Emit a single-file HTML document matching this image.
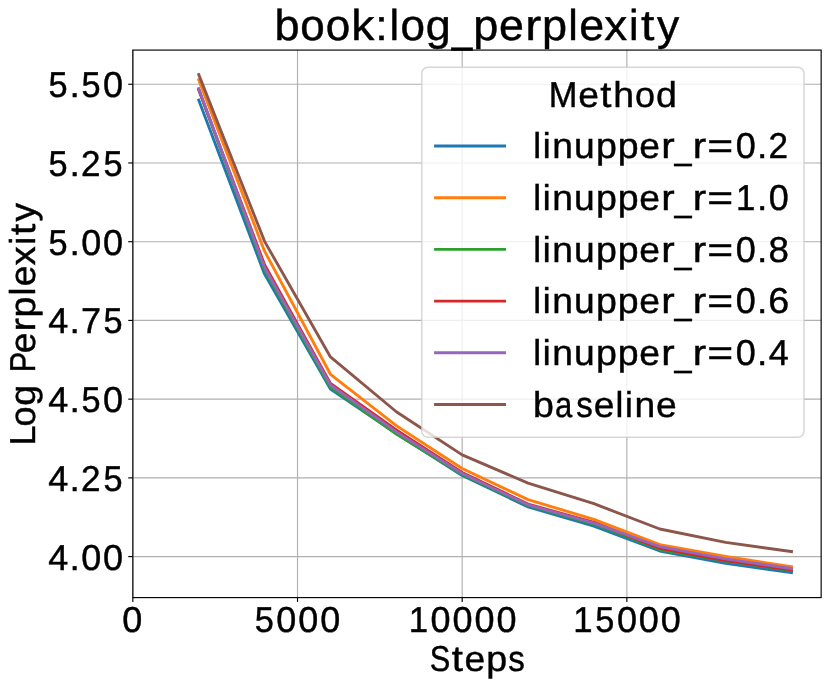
<!DOCTYPE html>
<html lang="en"><head><meta charset="utf-8"><title>book:log_perplexity</title>
<style>
html,body{margin:0;padding:0;background:#fff;}
body{width:830px;height:687px;overflow:hidden;font-family:"Liberation Sans",sans-serif;}
svg{display:block;position:absolute;left:0;top:0;will-change:transform;}
text{font-family:"Liberation Sans",sans-serif;fill:#000;stroke:#000;stroke-width:0.43px;text-rendering:geometricPrecision;}
.grid line{stroke:#b0b0b0;stroke-width:1.15;}
.tick line{stroke:#000;stroke-width:1.15;}
.series polyline{fill:none;stroke-width:2.87;stroke-linecap:square;stroke-linejoin:round;}
.handles line{stroke-width:2.87;stroke-linecap:square;}
</style></head><body>
<svg width="830" height="687" viewBox="0 0 830 687">
<rect x="0" y="0" width="830" height="687" fill="#ffffff"/>
<g class="grid">
<line x1="132.85" y1="50.08" x2="132.85" y2="597.60"/>
<line x1="297.52" y1="50.08" x2="297.52" y2="597.60"/>
<line x1="462.18" y1="50.08" x2="462.18" y2="597.60"/>
<line x1="626.85" y1="50.08" x2="626.85" y2="597.60"/>
<line x1="132.85" y1="556.60" x2="821.15" y2="556.60"/>
<line x1="132.85" y1="477.88" x2="821.15" y2="477.88"/>
<line x1="132.85" y1="399.15" x2="821.15" y2="399.15"/>
<line x1="132.85" y1="320.43" x2="821.15" y2="320.43"/>
<line x1="132.85" y1="241.70" x2="821.15" y2="241.70"/>
<line x1="132.85" y1="162.97" x2="821.15" y2="162.97"/>
<line x1="132.85" y1="84.25" x2="821.15" y2="84.25"/>
</g>
<g class="series">
<polyline stroke="#1f77b4" points="198.72,99.99 264.58,274.13 330.45,389.07 396.31,433.47 462.18,475.51 528.05,506.85 593.91,526.05 659.78,550.99 725.64,563.31 791.51,572.66"/>
<polyline stroke="#ff7f0e" points="198.72,79.84 264.58,251.15 330.45,374.27 396.31,425.60 462.18,468.43 528.05,499.60 593.91,519.44 659.78,544.70 725.64,556.41 791.51,566.68"/>
<polyline stroke="#2ca02c" points="198.72,89.29 264.58,269.73 330.45,387.18 396.31,434.10 462.18,474.57 528.05,505.43 593.91,524.01 659.78,549.51 725.64,561.01 791.51,570.61"/>
<polyline stroke="#d62728" points="198.72,89.92 264.58,264.69 330.45,383.41 396.31,430.01 462.18,472.52 528.05,504.07 593.91,522.43 659.78,548.29 725.64,560.63 791.51,569.83"/>
<polyline stroke="#9467bd" points="198.72,88.66 264.58,267.52 330.45,384.98 396.31,431.90 462.18,473.47 528.05,504.80 593.91,523.16 659.78,546.59 725.64,558.90 791.51,568.57"/>
<polyline stroke="#8c564b" points="198.72,74.49 264.58,241.39 330.45,356.95 396.31,411.75 462.18,454.89 528.05,483.07 593.91,503.70 659.78,528.98 725.64,542.43 791.51,551.59"/>
</g>
<g class="tick">
<line x1="132.85" y1="597.60" x2="132.85" y2="601.90"/>
<line x1="297.52" y1="597.60" x2="297.52" y2="601.90"/>
<line x1="462.18" y1="597.60" x2="462.18" y2="601.90"/>
<line x1="626.85" y1="597.60" x2="626.85" y2="601.90"/>
<line x1="128.25" y1="556.60" x2="132.85" y2="556.60"/>
<line x1="128.25" y1="477.88" x2="132.85" y2="477.88"/>
<line x1="128.25" y1="399.15" x2="132.85" y2="399.15"/>
<line x1="128.25" y1="320.43" x2="132.85" y2="320.43"/>
<line x1="128.25" y1="241.70" x2="132.85" y2="241.70"/>
<line x1="128.25" y1="162.97" x2="132.85" y2="162.97"/>
<line x1="128.25" y1="84.25" x2="132.85" y2="84.25"/>
</g>
<rect x="132.85" y="50.08" width="688.30" height="547.52" fill="none" stroke="#000" stroke-width="1.15"/>
<rect x="421.80" y="67.30" width="382.20" height="369.90" rx="6.2" ry="6.2" fill="#ffffff" fill-opacity="0.8" stroke="#cccccc" stroke-opacity="0.8" stroke-width="1.43"/>
<g class="handles">
<line x1="435.54" y1="146.00" x2="504.56" y2="146.00" stroke="#1f77b4"/>
<line x1="435.54" y1="197.70" x2="504.56" y2="197.70" stroke="#ff7f0e"/>
<line x1="435.54" y1="249.40" x2="504.56" y2="249.40" stroke="#2ca02c"/>
<line x1="435.54" y1="301.10" x2="504.56" y2="301.10" stroke="#d62728"/>
<line x1="435.54" y1="352.80" x2="504.56" y2="352.80" stroke="#9467bd"/>
<line x1="435.54" y1="404.50" x2="504.56" y2="404.50" stroke="#8c564b"/>
</g>
<g class="labels">
<text x="274.52 300.38 325.70 351.24 375.33 389.48 400.46 425.75 451.79 473.19 499.00 525.23 541.96 568.34 579.27 604.30 629.11 640.91 656.99" y="40.45 40.45 40.45 40.45 40.45 40.45 40.45 40.45 41.57 40.45 40.45 40.45 40.45 40.45 40.45 40.45 40.45 40.45 40.45" font-size="43.10"><tspan textLength="25.05" lengthAdjust="spacingAndGlyphs">b</tspan><tspan textLength="24.48" lengthAdjust="spacingAndGlyphs">o</tspan><tspan textLength="24.48" lengthAdjust="spacingAndGlyphs">o</tspan><tspan textLength="23.14" lengthAdjust="spacingAndGlyphs">k</tspan><tspan textLength="12.45" lengthAdjust="spacingAndGlyphs">:</tspan>l<tspan textLength="24.48" lengthAdjust="spacingAndGlyphs">o</tspan><tspan textLength="25.02" lengthAdjust="spacingAndGlyphs">g</tspan><tspan textLength="20.54" lengthAdjust="spacingAndGlyphs">_</tspan><tspan textLength="25.05" lengthAdjust="spacingAndGlyphs">p</tspan><tspan textLength="24.87" lengthAdjust="spacingAndGlyphs">e</tspan><tspan textLength="16.07" lengthAdjust="spacingAndGlyphs">r</tspan><tspan textLength="25.05" lengthAdjust="spacingAndGlyphs">p</tspan>l<tspan textLength="24.87" lengthAdjust="spacingAndGlyphs">e</tspan><tspan textLength="22.96" lengthAdjust="spacingAndGlyphs">x</tspan>i<tspan textLength="13.41" lengthAdjust="spacingAndGlyphs">t</tspan><tspan textLength="22.23" lengthAdjust="spacingAndGlyphs">y</tspan></text>
<text x="48.24 69.51 81.16 103.11" y="569.50" font-size="36.00">4<tspan textLength="10.37" lengthAdjust="spacingAndGlyphs">.</tspan>00</text>
<text x="48.24 69.51 80.96 103.44" y="490.77" font-size="36.00">4<tspan textLength="10.37" lengthAdjust="spacingAndGlyphs">.</tspan><tspan textLength="19.50" lengthAdjust="spacingAndGlyphs">2</tspan><tspan textLength="19.09" lengthAdjust="spacingAndGlyphs">5</tspan></text>
<text x="48.24 69.51 81.49 103.11" y="412.05" font-size="36.00">4<tspan textLength="10.37" lengthAdjust="spacingAndGlyphs">.</tspan><tspan textLength="19.09" lengthAdjust="spacingAndGlyphs">5</tspan>0</text>
<text x="48.24 69.51 81.09 103.44" y="333.32" font-size="36.00">4<tspan textLength="10.37" lengthAdjust="spacingAndGlyphs">.</tspan>7<tspan textLength="19.09" lengthAdjust="spacingAndGlyphs">5</tspan></text>
<text x="48.57 69.51 81.16 103.11" y="254.60" font-size="36.00"><tspan textLength="19.09" lengthAdjust="spacingAndGlyphs">5</tspan><tspan textLength="10.37" lengthAdjust="spacingAndGlyphs">.</tspan>00</text>
<text x="48.57 69.51 80.96 103.44" y="175.87" font-size="36.00"><tspan textLength="19.09" lengthAdjust="spacingAndGlyphs">5</tspan><tspan textLength="10.37" lengthAdjust="spacingAndGlyphs">.</tspan><tspan textLength="19.50" lengthAdjust="spacingAndGlyphs">2</tspan><tspan textLength="19.09" lengthAdjust="spacingAndGlyphs">5</tspan></text>
<text x="48.57 69.51 81.49 103.11" y="97.15" font-size="36.00"><tspan textLength="19.09" lengthAdjust="spacingAndGlyphs">5</tspan><tspan textLength="10.37" lengthAdjust="spacingAndGlyphs">.</tspan><tspan textLength="19.09" lengthAdjust="spacingAndGlyphs">5</tspan>0</text>
<text x="122.14" y="632.00" font-size="36.00">0</text>
<text x="254.75 276.37 298.32 320.27" y="632.00" font-size="36.00"><tspan textLength="19.09" lengthAdjust="spacingAndGlyphs">5</tspan>000</text>
<text x="408.77 430.53 452.48 474.43 496.38" y="632.00" font-size="36.00"><tspan textLength="19.32" lengthAdjust="spacingAndGlyphs">1</tspan>0000</text>
<text x="573.17 595.26 616.88 638.83 660.78" y="632.00" font-size="36.00"><tspan textLength="19.32" lengthAdjust="spacingAndGlyphs">1</tspan><tspan textLength="19.09" lengthAdjust="spacingAndGlyphs">5</tspan>000</text>
<text x="429.67 451.75 464.54 486.16 508.29" y="670.90" font-size="36.00"><tspan textLength="20.51" lengthAdjust="spacingAndGlyphs">S</tspan><tspan textLength="11.20" lengthAdjust="spacingAndGlyphs">t</tspan><tspan textLength="20.72" lengthAdjust="spacingAndGlyphs">e</tspan><tspan textLength="20.87" lengthAdjust="spacingAndGlyphs">p</tspan><tspan textLength="16.54" lengthAdjust="spacingAndGlyphs">s</tspan></text>
<text x="548.74 578.26 600.23 613.23 635.11 656.00" y="107.20" font-size="36.00"><tspan textLength="28.65" lengthAdjust="spacingAndGlyphs">M</tspan><tspan textLength="20.72" lengthAdjust="spacingAndGlyphs">e</tspan><tspan textLength="11.20" lengthAdjust="spacingAndGlyphs">t</tspan><tspan textLength="20.83" lengthAdjust="spacingAndGlyphs">h</tspan>o<tspan textLength="20.85" lengthAdjust="spacingAndGlyphs">d</tspan></text>
<text x="533.23 542.84 552.19 573.91 595.98 617.88 639.38 661.23 674.60 692.66 707.39 735.77 757.04 768.49" y="158.25 158.25 158.25 158.25 158.25 158.25 158.25 158.25 159.17 158.25 158.25 158.25 158.25 158.25" font-size="36.00"><tspan textLength="7.84" lengthAdjust="spacingAndGlyphs">l</tspan><tspan textLength="7.84" lengthAdjust="spacingAndGlyphs">i</tspan><tspan textLength="20.69" lengthAdjust="spacingAndGlyphs">n</tspan><tspan textLength="20.69" lengthAdjust="spacingAndGlyphs">u</tspan><tspan textLength="20.87" lengthAdjust="spacingAndGlyphs">p</tspan><tspan textLength="20.87" lengthAdjust="spacingAndGlyphs">p</tspan><tspan textLength="20.72" lengthAdjust="spacingAndGlyphs">e</tspan><tspan textLength="13.43" lengthAdjust="spacingAndGlyphs">r</tspan><tspan textLength="17.11" lengthAdjust="spacingAndGlyphs">_</tspan><tspan textLength="13.43" lengthAdjust="spacingAndGlyphs">r</tspan><tspan textLength="25.96" lengthAdjust="spacingAndGlyphs">=</tspan>0<tspan textLength="10.37" lengthAdjust="spacingAndGlyphs">.</tspan><tspan textLength="19.50" lengthAdjust="spacingAndGlyphs">2</tspan></text>
<text x="533.23 542.84 552.19 573.91 595.98 617.88 639.38 661.23 674.60 692.66 707.39 735.96 757.04 768.68" y="209.93 209.93 209.93 209.93 209.93 209.93 209.93 209.93 210.85 209.93 209.93 209.93 209.93 209.93" font-size="36.00"><tspan textLength="7.84" lengthAdjust="spacingAndGlyphs">l</tspan><tspan textLength="7.84" lengthAdjust="spacingAndGlyphs">i</tspan><tspan textLength="20.69" lengthAdjust="spacingAndGlyphs">n</tspan><tspan textLength="20.69" lengthAdjust="spacingAndGlyphs">u</tspan><tspan textLength="20.87" lengthAdjust="spacingAndGlyphs">p</tspan><tspan textLength="20.87" lengthAdjust="spacingAndGlyphs">p</tspan><tspan textLength="20.72" lengthAdjust="spacingAndGlyphs">e</tspan><tspan textLength="13.43" lengthAdjust="spacingAndGlyphs">r</tspan><tspan textLength="17.11" lengthAdjust="spacingAndGlyphs">_</tspan><tspan textLength="13.43" lengthAdjust="spacingAndGlyphs">r</tspan><tspan textLength="25.96" lengthAdjust="spacingAndGlyphs">=</tspan><tspan textLength="19.32" lengthAdjust="spacingAndGlyphs">1</tspan><tspan textLength="10.37" lengthAdjust="spacingAndGlyphs">.</tspan>0</text>
<text x="533.23 542.84 552.19 573.91 595.98 617.88 639.38 661.23 674.60 692.66 707.39 735.77 757.04 768.47" y="261.61 261.61 261.61 261.61 261.61 261.61 261.61 261.61 262.53 261.61 261.61 261.61 261.61 261.61" font-size="36.00"><tspan textLength="7.84" lengthAdjust="spacingAndGlyphs">l</tspan><tspan textLength="7.84" lengthAdjust="spacingAndGlyphs">i</tspan><tspan textLength="20.69" lengthAdjust="spacingAndGlyphs">n</tspan><tspan textLength="20.69" lengthAdjust="spacingAndGlyphs">u</tspan><tspan textLength="20.87" lengthAdjust="spacingAndGlyphs">p</tspan><tspan textLength="20.87" lengthAdjust="spacingAndGlyphs">p</tspan><tspan textLength="20.72" lengthAdjust="spacingAndGlyphs">e</tspan><tspan textLength="13.43" lengthAdjust="spacingAndGlyphs">r</tspan><tspan textLength="17.11" lengthAdjust="spacingAndGlyphs">_</tspan><tspan textLength="13.43" lengthAdjust="spacingAndGlyphs">r</tspan><tspan textLength="25.96" lengthAdjust="spacingAndGlyphs">=</tspan>0<tspan textLength="10.37" lengthAdjust="spacingAndGlyphs">.</tspan><tspan textLength="20.45" lengthAdjust="spacingAndGlyphs">8</tspan></text>
<text x="533.23 542.84 552.19 573.91 595.98 617.88 639.38 661.23 674.60 692.66 707.39 735.77 757.04 768.23" y="313.29 313.29 313.29 313.29 313.29 313.29 313.29 313.29 314.21 313.29 313.29 313.29 313.29 313.29" font-size="36.00"><tspan textLength="7.84" lengthAdjust="spacingAndGlyphs">l</tspan><tspan textLength="7.84" lengthAdjust="spacingAndGlyphs">i</tspan><tspan textLength="20.69" lengthAdjust="spacingAndGlyphs">n</tspan><tspan textLength="20.69" lengthAdjust="spacingAndGlyphs">u</tspan><tspan textLength="20.87" lengthAdjust="spacingAndGlyphs">p</tspan><tspan textLength="20.87" lengthAdjust="spacingAndGlyphs">p</tspan><tspan textLength="20.72" lengthAdjust="spacingAndGlyphs">e</tspan><tspan textLength="13.43" lengthAdjust="spacingAndGlyphs">r</tspan><tspan textLength="17.11" lengthAdjust="spacingAndGlyphs">_</tspan><tspan textLength="13.43" lengthAdjust="spacingAndGlyphs">r</tspan><tspan textLength="25.96" lengthAdjust="spacingAndGlyphs">=</tspan>0<tspan textLength="10.37" lengthAdjust="spacingAndGlyphs">.</tspan><tspan textLength="20.93" lengthAdjust="spacingAndGlyphs">6</tspan></text>
<text x="533.23 542.84 552.19 573.91 595.98 617.88 639.38 661.23 674.60 692.66 707.39 735.77 757.04 768.68" y="364.97 364.97 364.97 364.97 364.97 364.97 364.97 364.97 365.89 364.97 364.97 364.97 364.97 364.97" font-size="36.00"><tspan textLength="7.84" lengthAdjust="spacingAndGlyphs">l</tspan><tspan textLength="7.84" lengthAdjust="spacingAndGlyphs">i</tspan><tspan textLength="20.69" lengthAdjust="spacingAndGlyphs">n</tspan><tspan textLength="20.69" lengthAdjust="spacingAndGlyphs">u</tspan><tspan textLength="20.87" lengthAdjust="spacingAndGlyphs">p</tspan><tspan textLength="20.87" lengthAdjust="spacingAndGlyphs">p</tspan><tspan textLength="20.72" lengthAdjust="spacingAndGlyphs">e</tspan><tspan textLength="13.43" lengthAdjust="spacingAndGlyphs">r</tspan><tspan textLength="17.11" lengthAdjust="spacingAndGlyphs">_</tspan><tspan textLength="13.43" lengthAdjust="spacingAndGlyphs">r</tspan><tspan textLength="25.96" lengthAdjust="spacingAndGlyphs">=</tspan>0<tspan textLength="10.37" lengthAdjust="spacingAndGlyphs">.</tspan>4</text>
<text x="533.07 555.01 576.35 593.70 615.48 625.08 634.43 655.96" y="416.65" font-size="36.00"><tspan textLength="20.87" lengthAdjust="spacingAndGlyphs">b</tspan><tspan textLength="17.25" lengthAdjust="spacingAndGlyphs">a</tspan><tspan textLength="16.54" lengthAdjust="spacingAndGlyphs">s</tspan><tspan textLength="20.72" lengthAdjust="spacingAndGlyphs">e</tspan><tspan textLength="7.84" lengthAdjust="spacingAndGlyphs">l</tspan><tspan textLength="7.84" lengthAdjust="spacingAndGlyphs">i</tspan><tspan textLength="20.69" lengthAdjust="spacingAndGlyphs">n</tspan><tspan textLength="20.72" lengthAdjust="spacingAndGlyphs">e</tspan></text>
<text transform="translate(35.40,442.35) rotate(-90)" x="-3.06 15.78 36.67 58.24 70.09 89.10 110.94 124.90 146.96 155.99 176.85 197.60 207.35 220.76" y="0.00" font-size="36.00">Lo<tspan textLength="20.85" lengthAdjust="spacingAndGlyphs">g</tspan> <tspan textLength="20.35" lengthAdjust="spacingAndGlyphs">P</tspan><tspan textLength="20.72" lengthAdjust="spacingAndGlyphs">e</tspan><tspan textLength="13.43" lengthAdjust="spacingAndGlyphs">r</tspan><tspan textLength="20.87" lengthAdjust="spacingAndGlyphs">p</tspan><tspan textLength="7.84" lengthAdjust="spacingAndGlyphs">l</tspan><tspan textLength="20.72" lengthAdjust="spacingAndGlyphs">e</tspan><tspan textLength="19.14" lengthAdjust="spacingAndGlyphs">x</tspan><tspan textLength="7.84" lengthAdjust="spacingAndGlyphs">i</tspan><tspan textLength="11.20" lengthAdjust="spacingAndGlyphs">t</tspan><tspan textLength="18.52" lengthAdjust="spacingAndGlyphs">y</tspan></text>
</g>
</svg>
</body></html>
